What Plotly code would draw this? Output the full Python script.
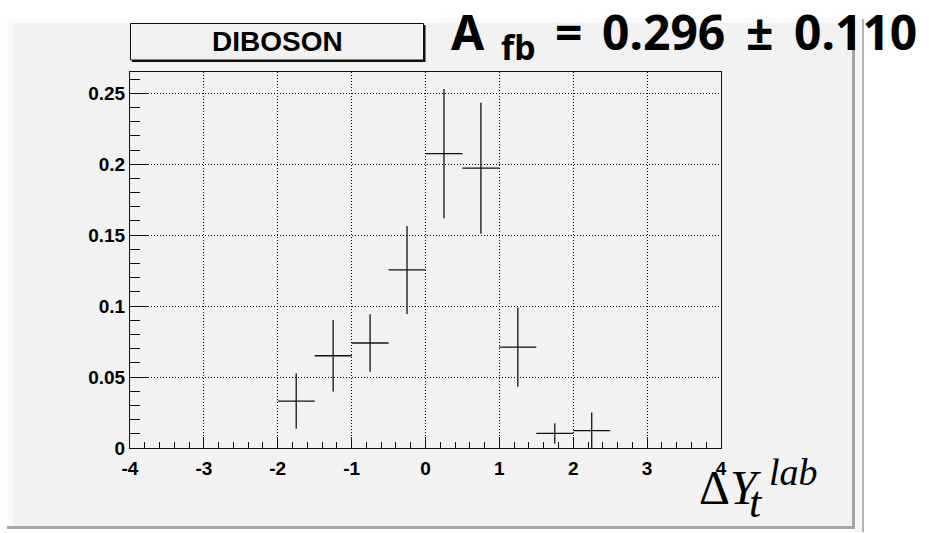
import plotly.graph_objects as go

# ---------------- data ----------------
bin_centers = [-1.75, -1.25, -0.75, -0.25, 0.25, 0.75, 1.25, 1.75, 2.25]
bin_half_widths = [0.25, 0.25, 0.25, 0.25, 0.25, 0.25, 0.25, 0.25, 0.25]
values = [0.033, 0.065, 0.074, 0.1255, 0.2075, 0.1972, 0.0711, 0.0103, 0.0122]
errors = [0.0195, 0.0252, 0.0203, 0.031, 0.0455, 0.0462, 0.028, 0.0072, 0.0128]

x_tick_vals = [-4, -3, -2, -1, 0, 1, 2, 3, 4]
x_tick_text = ["-4", "-3", "-2", "-1", "0", "1", "2", "3", "4"]
y_tick_vals = [0, 0.05, 0.1, 0.15, 0.2, 0.25]
y_tick_text = ["0", "0.05", "0.1", "0.15", "0.2", "0.25"]

legend_label = "DIBOSON"
title_main = "A"
title_sub = "fb"
title_eq = "="
title_value = "0.296"
title_pm = "±"
title_err = "0.110"
xtitle_main = "Δ<i>Y</i>"
xtitle_sub = "<i>t</i>"
xtitle_sup = "<i>lab</i>"

# ---------------- geometry (pixels) ----------------
W, H = 951, 533
L, R, T, B = 130, 721, 72, 448


def px(x):
    return (x - L) / (R - L)


def py(y):
    return (B - y) / (B - T)


fig = go.Figure()
fig.add_trace(go.Scatter(
    x=bin_centers, y=values, mode="markers",
    marker=dict(size=1, color="rgba(0,0,0,0)"),
    error_x=dict(type="data", array=bin_half_widths, width=0, thickness=1.3, color="#111"),
    error_y=dict(type="data", array=errors, width=0, thickness=1.3, color="#111"),
    showlegend=False, hoverinfo="skip",
))

shapes = []
# canvas with bevel
shapes.append(dict(type="rect", xref="paper", yref="paper", layer="below",
                   x0=px(855), x1=px(863), y0=py(19), y1=py(532),
                   fillcolor="#f6f6f6", line=dict(width=0)))
shapes.append(dict(type="line", xref="paper", yref="paper", layer="below",
                   x0=px(863), x1=px(863), y0=py(19), y1=py(532),
                   line=dict(color="#9a9a9a", width=1.5)))
shapes.append(dict(type="rect", xref="paper", yref="paper", layer="below",
                   x0=px(7), x1=px(855), y0=py(18), y1=py(529),
                   fillcolor="#a6a6a6", line=dict(width=0)))
shapes.append(dict(type="rect", xref="paper", yref="paper", layer="below",
                   x0=px(7), x1=px(852), y0=py(18), y1=py(526),
                   fillcolor="#fbfbfb", line=dict(width=0)))
shapes.append(dict(type="rect", xref="paper", yref="paper", layer="below",
                   x0=px(13), x1=px(852), y0=py(23), y1=py(526),
                   fillcolor="#f2f2f2", line=dict(width=0)))
# legend pave with shadow
shapes.append(dict(type="rect", xref="paper", yref="paper", layer="above",
                   x0=px(132), x1=px(425.5), y0=py(25), y1=py(62),
                   fillcolor="#111", line=dict(width=0)))
shapes.append(dict(type="rect", xref="paper", yref="paper", layer="above",
                   x0=px(130.5), x1=px(423.5), y0=py(23.5), y1=py(60),
                   fillcolor="#f2f2f2", line=dict(color="#111", width=1)))
fig.update_layout(shapes=shapes)

title_font = dict(family="Noto Sans", size=48, color="black", weight="bold")


def text_ann(text, x, y, font, xanchor="left"):
    return dict(text=text, xref="paper", yref="paper", x=px(x), y=py(y),
                xanchor=xanchor, yanchor="middle", showarrow=False, font=font)


ann = [
    text_ann(legend_label, 277, 41.5,
             dict(family="Liberation Sans", size=28, color="black", weight="bold"), "center"),
    text_ann(title_main, 449, 31, title_font),
    text_ann(title_sub, 499, 47, dict(family="Noto Sans", size=34, color="black", weight="bold")),
    text_ann(title_eq, 553, 31, title_font),
    text_ann(title_value, 600, 31, title_font),
    text_ann(title_pm, 744, 31, title_font),
    text_ann(title_err, 792, 31, title_font),
    text_ann(xtitle_main, 697, 487, dict(family="Liberation Serif", size=48, color="black")),
    text_ann(xtitle_sub, 747, 503, dict(family="Liberation Serif", size=44, color="black")),
    text_ann(xtitle_sup, 767, 472, dict(family="Liberation Serif", size=38, color="black")),
]
fig.update_layout(annotations=ann)

tickfont = dict(family="Liberation Sans", size=19, color="black", weight="bold")
grid = dict(showgrid=True, gridcolor="#000", gridwidth=1, griddash="1px,2px", zeroline=False,
            showline=True, linecolor="#111", linewidth=1, mirror=True,
            ticks="inside", tickcolor="#111", tickwidth=1, tickfont=tickfont)

fig.update_xaxes(range=[-4, 4], tickvals=x_tick_vals, ticktext=x_tick_text, ticklen=11,
                 ticklabelstandoff=3,
                 minor=dict(dtick=0.2, ticks="inside", ticklen=6, tickcolor="#111", tickwidth=1, showgrid=False),
                 **grid)
fig.update_yaxes(range=[0, 0.265], tickvals=y_tick_vals, ticktext=y_tick_text, ticklen=18,
                 minor=dict(dtick=0.01, ticks="inside", ticklen=10, tickcolor="#111", tickwidth=1, showgrid=False),
                 **grid)

fig.update_layout(width=W, height=H, margin=dict(l=L, r=W - R, t=T, b=H - B, pad=0),
                  paper_bgcolor="white", plot_bgcolor="rgba(0,0,0,0)", showlegend=False)

fig.write_html("out.html")
